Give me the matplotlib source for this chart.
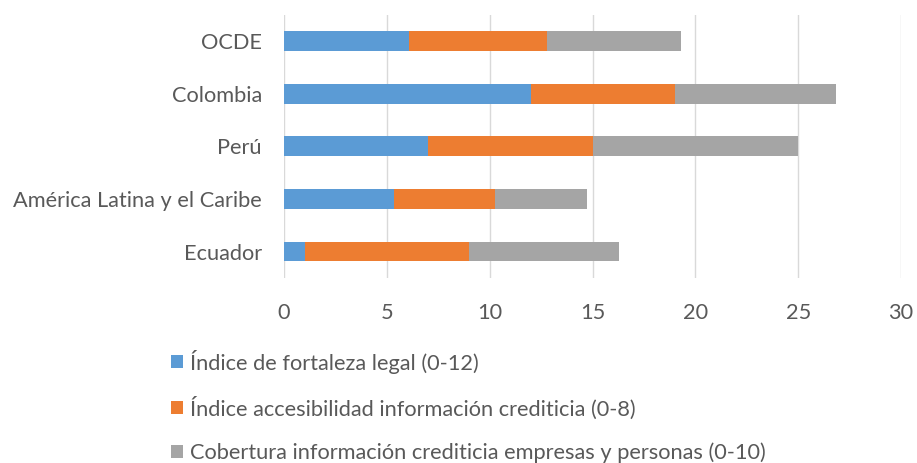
import matplotlib
matplotlib.use("Agg")
import matplotlib.pyplot as plt
import numpy as np

# Data (stacked horizontal bars)
categories = ["Ecuador", "América Latina y el Caribe", "Perú", "Colombia", "OCDE"]
fortaleza_legal = [1.0, 5.35, 7.0, 12.0, 6.1]
accesibilidad_info = [8.0, 4.9, 8.0, 7.0, 6.7]
cobertura_info = [7.3, 4.5, 10.0, 7.85, 6.5]

series_labels = [
    "Índice de fortaleza legal (0-12)",
    "Índice accesibilidad información crediticia (0-8)",
    "Cobertura información crediticia empresas y personas (0-10)",
]
colors = ["#5b9bd5", "#ed7d31", "#a5a5a5"]
text_color = "#595959"

plt.rcParams["font.family"] = ["Lato", "DejaVu Sans"]

fig = plt.figure(figsize=(9.17, 4.63), dpi=100)
ax = fig.add_axes([0.3097, 0.400, 0.673, 0.568])

y = np.arange(len(categories))
left = np.zeros(len(categories))
for vals, lab, col in zip([fortaleza_legal, accesibilidad_info, cobertura_info], series_labels, colors):
    ax.barh(y, vals, left=left, height=0.38, color=col, label=lab, zorder=3)
    left += np.array(vals)

ax.set_xlim(0, 30)
ax.set_ylim(-0.5, 4.5)
ax.set_xticks(range(0, 31, 5))
ax.set_yticks(y)
ax.set_yticklabels(categories)
ax.tick_params(length=0, labelsize=15.7, colors=text_color)
ax.tick_params(axis="x", pad=18)
ax.tick_params(axis="y", pad=16)
ax.grid(axis="x", color="#d9d9d9", linewidth=1, zorder=0)
for s in ax.spines.values():
    s.set_visible(False)

handles, labels = ax.get_legend_handles_labels()
leg = fig.legend(handles, labels, loc="upper left", bbox_to_anchor=(0.187, 0.245),
                 frameon=False, fontsize=15.7, handlelength=0.55, handleheight=0.55,
                 handletextpad=0.32, labelspacing=1.05, borderaxespad=0, borderpad=0)
for t in leg.get_texts():
    t.set_color(text_color)

fig.savefig("out.png", dpi=100)
